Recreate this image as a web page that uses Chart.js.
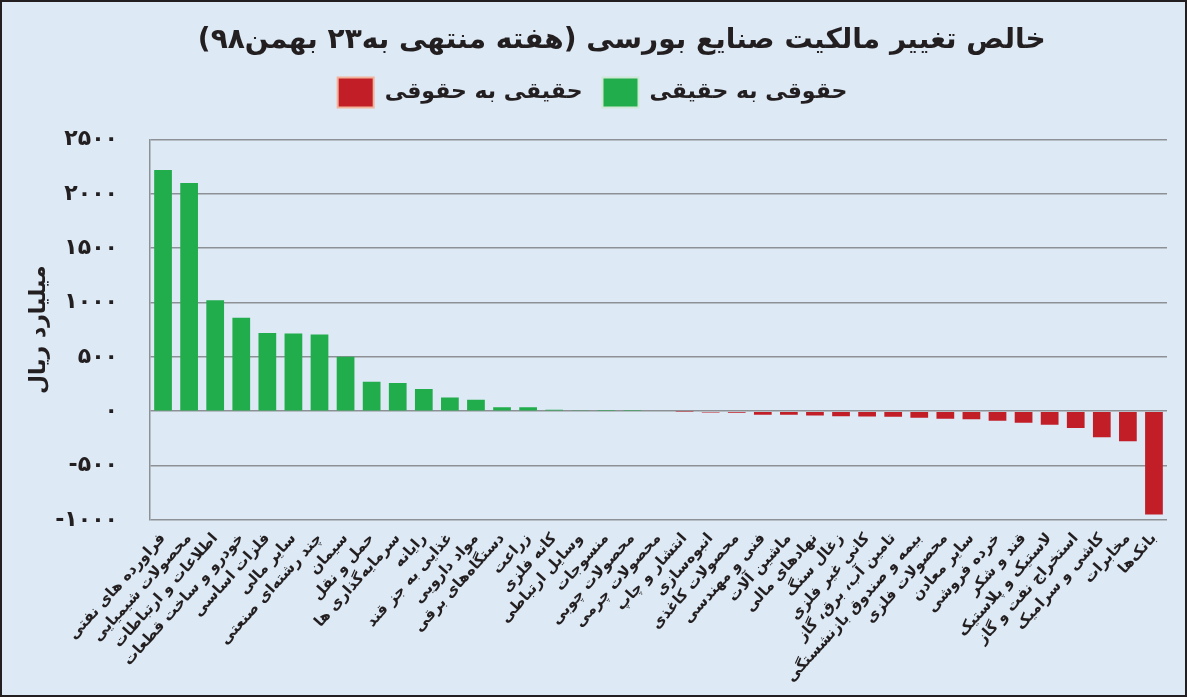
<!DOCTYPE html>
<html lang="fa">
<head>
<meta charset="utf-8">
<title>خالص تغییر مالکیت صنایع بورسی</title>
<script src="https://cdn.jsdelivr.net/npm/chart.js@4.4.1/dist/chart.umd.min.js"></script>
<style>
  html, body { margin: 0; padding: 0; }
  body { width: 1187px; height: 697px; overflow: hidden; background: #dde9f5; }
  #wrap { box-sizing: border-box; width: 1187px; height: 697px; border: 2px solid #231f20; background: #dde9f5; }
  canvas { display: block; }
</style>
</head>
<body>
<div id="wrap"><canvas id="ownershipChart" width="1183" height="693"></canvas></div>
<script>
// --- داده‌ها (میلیارد ریال) ---
const categories = [
  'فراورده های نفتی', 'محصولات شیمیایی', 'اطلاعات و ارتباطات', 'خودرو و ساخت قطعات',
  'فلزات اساسی', 'سایر مالی', 'چند رشته‌ای صنعتی', 'سیمان', 'حمل و نقل',
  'سرمایه‌گذاری ها', 'رایانه', 'غذایی به جز قند', 'مواد دارویی', 'دستگاه‌های برقی',
  'زراعت', 'کانه فلزی', 'وسایل ارتباطی', 'منسوجات', 'محصولات چوبی', 'محصولات چرمی',
  'انتشار و چاپ', 'انبوه‌سازی', 'محصولات کاغذی', 'فنی و مهندسی', 'ماشین آلات',
  'نهادهای مالی', 'زغال سنگ', 'کانی غیر فلزی', 'تامین آب، برق، گاز',
  'بیمه و صندوق بازنشستگی', 'محصولات فلزی', 'سایر معادن', 'خرده فروشی', 'قند و شکر',
  'لاستیک و پلاستیک', 'استخراج نفت و گاز', 'کاشی و سرامیک', 'مخابرات', 'بانک‌ها'
];
const netValues = [
  2220, 2100, 1020, 860, 720, 715, 705, 500, 270, 260, 205, 125, 105, 37, 35, 13,
  3, 2, 1, 0, -2, -13, -15, -32, -33, -41, -47, -50, -51, -60, -69, -75, -88,
  -107, -125, -154, -241, -276, -951
];
const seriesNames = ['حقوقی به حقیقی', 'حقیقی به حقوقی'];
const yTickValues = [-1000, -500, 0, 500, 1000, 1500, 2000, 2500];
const yTickLabels = ['-۱۰۰۰', '-۵۰۰', '۰', '۵۰۰', '۱۰۰۰', '۱۵۰۰', '۲۰۰۰', '۲۵۰۰'];

const GREEN = '#22ad4c';
const RED = '#c11e28';
const FONT = "'DejaVu Sans', sans-serif";
const RLM = '\u200F';

// فاصله‌ی اضافه زیر راهنما
const legendGap = {
  id: 'legendGap',
  beforeInit(chart) {
    const fit = chart.legend.fit;
    chart.legend.fit = function () {
      fit.bind(chart.legend)();
      this.height += 22;
    };
  }
};

const ctx = document.getElementById('ownershipChart');
new Chart(ctx, {
  type: 'bar',
  data: {
    labels: categories,
    datasets: [
      {
        label: seriesNames[0],
        data: netValues.map(v => (v >= 0 ? v : null)),
        backgroundColor: GREEN
      },
      {
        label: seriesNames[1],
        data: netValues.map(v => (v < 0 ? v : null)),
        backgroundColor: RED
      }
    ]
  },
  plugins: [legendGap],
  options: {
    responsive: false,
    animation: false,
    devicePixelRatio: 1,
    layout: { padding: { top: 0, left: 16, right: 18, bottom: 7 } },
    datasets: { bar: { categoryPercentage: 1, barPercentage: 0.68 } },
    plugins: {
      title: {
        display: true,
        text: RLM + 'خالص تغییر مالکیت صنایع بورسی (هفته منتهی به۲۳ بهمن۹۸)' + '\u00A0'.repeat(6) + RLM,
        color: '#231f20',
        font: { family: FONT, size: 28, weight: 'bold' },
        padding: { top: 22, bottom: 0 }
      },
      legend: {
        reverse: true,
        labels: {
          color: '#231f20',
          font: { family: FONT, size: 22, weight: 'bold' },
          boxWidth: 36,
          boxHeight: 30,
          padding: 20,
          generateLabels: chart => {
            const items = Chart.defaults.plugins.legend.labels.generateLabels(chart);
            items.forEach(item => {
              item.strokeStyle = item.datasetIndex === 1 ? '#f3b39b' : '#cfe8d5';
              item.lineWidth = 2;
            });
            return items;
          }
        }
      },
      tooltip: { enabled: false }
    },
    scales: {
      x: {
        stacked: true,
        grid: { display: false },
        border: { display: false },
        afterFit: scale => {
          scale.paddingLeft = 0;
        },
        ticks: {
          autoSkip: false,
          minRotation: 48,
          maxRotation: 48,
          padding: 2,
          color: '#231f20',
          font: { family: FONT, size: 15, weight: 'bold' }
        }
      },
      y: {
        stacked: true,
        min: -1000,
        max: 2500,
        afterBuildTicks: scale => {
          scale.ticks = yTickValues.map(v => ({ value: v }));
        },
        afterFit: scale => {
          scale.width = 132;
        },
        grid: { color: '#8d9196', lineWidth: 1.5, drawTicks: false },
        border: { display: true, color: '#8d9196', width: 1.5 },
        title: {
          display: true,
          text: 'میلیارد ریال',
          color: '#231f20',
          font: { family: FONT, size: 22, weight: 'bold' },
          padding: { top: 8, bottom: 4 }
        },
        ticks: {
          padding: 32,
          color: '#231f20',
          font: { family: FONT, size: 22, weight: 'bold' },
          callback: value => yTickLabels[yTickValues.indexOf(value)]
        }
      }
    }
  }
});
</script>
</body>
</html>
